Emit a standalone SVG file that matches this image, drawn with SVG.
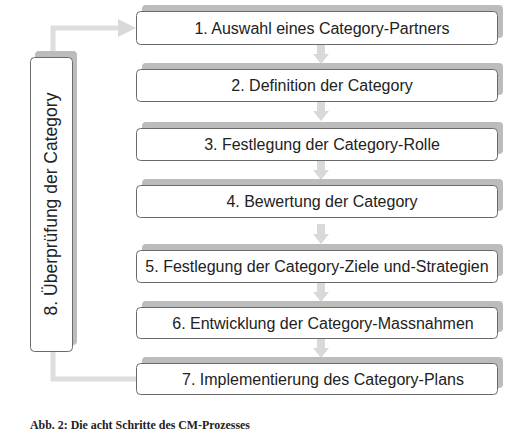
<svg xmlns="http://www.w3.org/2000/svg" width="529" height="439" viewBox="0 0 529 439">
<style>
.sh{fill:#bcbcbc}
.bx{fill:#ffffff;stroke:#6a6a6a;stroke-width:1}
.t{font-family:"Liberation Sans",Arial,sans-serif;font-size:16px;fill:#222;text-anchor:middle}
.ln{fill:none;stroke:#dedede;stroke-width:5}
.ar{fill:#d9d9d9}
.cap{font-family:"Liberation Serif","Times New Roman",serif;font-weight:bold;font-size:11.5px;fill:#222}
</style>
<defs>
<polygon id="down" points="-4,0 4,0 4,10 8,10 0,20 -8,10 -4,10"/>
</defs>
<rect width="529" height="439" fill="#ffffff"/>
<g id="connectors">
<use href="#down" class="ar" x="321" y="44"/>
<use href="#down" class="ar" x="321" y="101"/>
<use href="#down" class="ar" x="321" y="160"/>
<use href="#down" class="ar" x="321" y="217" transform="translate(0,7)"/>
<use href="#down" class="ar" x="321" y="282"/>
<use href="#down" class="ar" x="321" y="338"/>
<path class="ln" d="M53,52 V28 H120"/>
<polygon class="ar" points="118,19 136,28 118,37"/>
<path class="ln" d="M53,350 V379 H136"/>
</g>
<g id="node1"><rect class="sh" x="142" y="5" width="361" height="33" rx="4"/><rect class="bx" x="136.5" y="11.5" width="361" height="33" rx="4"/><text class="t" x="322" y="34">1. Auswahl eines Category-Partners</text></g>
<g id="node2"><rect class="sh" x="142" y="63" width="361" height="32" rx="4"/><rect class="bx" x="136.5" y="69.5" width="361" height="32" rx="4"/><text class="t" x="322" y="91">2. Definition der Category</text></g>
<g id="node3"><rect class="sh" x="142" y="122" width="361" height="32" rx="4"/><rect class="bx" x="136.5" y="128.5" width="361" height="32" rx="4"/><text class="t" x="322" y="150">3. Festlegung der Category-Rolle</text></g>
<g id="node4"><rect class="sh" x="142" y="179" width="361" height="32" rx="4"/><rect class="bx" x="136.5" y="185.5" width="361" height="32" rx="4"/><text class="t" x="322" y="207">4. Bewertung der Category</text></g>
<g id="node5"><rect class="sh" x="142" y="244" width="361" height="32" rx="4"/><rect class="bx" x="136.5" y="250.5" width="361" height="32" rx="4"/><text class="t" x="317" y="272">5. Festlegung der Category-Ziele und-Strategien</text></g>
<g id="node6"><rect class="sh" x="142" y="301" width="361" height="31" rx="4"/><rect class="bx" x="136.5" y="307.5" width="361" height="31" rx="4"/><text class="t" x="323" y="329">6. Entwicklung der Category-Massnahmen</text></g>
<g id="node7"><rect class="sh" x="142" y="357" width="361" height="31" rx="4"/><rect class="bx" x="136.5" y="363.5" width="361" height="31" rx="4"/><text class="t" x="323" y="385">7. Implementierung des Category-Plans</text></g>
<g id="node8"><rect class="sh" x="35" y="51" width="42" height="294" rx="4"/><rect class="bx" x="30.5" y="57.5" width="42" height="294" rx="4"/><text class="t" style="font-size:17.5px" transform="translate(57,204) rotate(-90)">8. Überprüfung der Category</text></g>
<text class="cap" x="30" y="429" textLength="220" lengthAdjust="spacingAndGlyphs">Abb. 2: Die acht Schritte des CM-Prozesses</text>
</svg>
